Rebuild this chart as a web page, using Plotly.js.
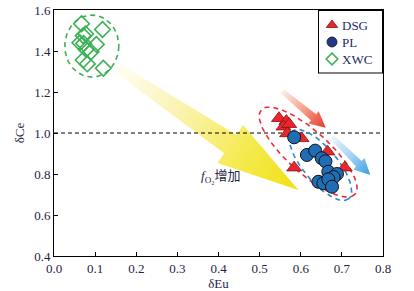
<!DOCTYPE html>
<html><head><meta charset="utf-8">
<script src="https://cdn.plot.ly/plotly-3.0.1.min.js"></script>
<style>html,body{margin:0;padding:0;background:#fff}#chart{width:414px;height:291px}</style>
</head><body><div id="chart"></div>
<script>
// ---- data ----
const seriesNames = ['DSG', 'PL', 'XWC'];
const dsgEu = [0.547, 0.565, 0.558, 0.572, 0.567, 0.602, 0.665, 0.584, 0.707];
const dsgCe = [1.072, 1.058, 1.031, 1.043, 0.998, 0.974, 0.909, 0.831, 0.831];
const plEu = [0.584, 0.615, 0.635, 0.651, 0.660, 0.667, 0.688, 0.680, 0.643, 0.655, 0.667, 0.676];
const plCe = [0.979, 0.893, 0.914, 0.877, 0.862, 0.811, 0.800, 0.785, 0.762, 0.755, 0.774, 0.738];
const xwcEu = [0.067, 0.118, 0.077, 0.071, 0.063, 0.072, 0.103, 0.078, 0.090, 0.071, 0.081, 0.120];
const xwcCe = [1.533, 1.505, 1.483, 1.475, 1.440, 1.437, 1.432, 1.408, 1.396, 1.356, 1.337, 1.316];
const xTickVals = [0, 0.1, 0.2, 0.3, 0.4, 0.5, 0.6, 0.7, 0.8];
const yTickVals = [0.4, 0.6, 0.8, 1.0, 1.2, 1.4, 1.6];
const refLineCe = 1.0;
const xTitle = 'δEu', yTitle = 'δCe';
const noteText = '<i>f</i><sub>O₂</sub>增加';

// ---- layout geometry ----
const W = 414, H = 291;
const M = {l: 54, r: 31, t: 10, b: 35};
const XR = [0, 0.8], YR = [0.4, 1.6];
const PW = W - M.l - M.r, PH = H - M.t - M.b;
function toPx(x, y) { return [(x - XR[0]) / (XR[1] - XR[0]) * PW, (YR[1] - y) / (YR[1] - YR[0]) * PH]; }
function toData(px, py) { return [XR[0] + px / PW * (XR[1] - XR[0]), YR[1] - py / PH * (YR[1] - YR[0])]; }

function ellipse(cx, cy, a, b, angDeg) {
  const [pcx, pcy] = toPx(cx, cy);
  const t = angDeg * Math.PI / 180, xs = [], ys = [];
  for (let i = 0; i <= 120; i++) {
    const s = i / 120 * 2 * Math.PI;
    const ex = a * Math.cos(s), ey = b * Math.sin(s);
    const d = toData(pcx + ex * Math.cos(t) - ey * Math.sin(t), pcy + ex * Math.sin(t) + ey * Math.cos(t));
    xs.push(d[0]); ys.push(d[1]);
  }
  return {xs, ys};
}

function arrowSvg(id, from, to, w0, w1, hw, hl, stops) {
  const s = toPx(from[0], from[1]), t = toPx(to[0], to[1]);
  const dx = t[0] - s[0], dy = t[1] - s[1], L = Math.hypot(dx, dy);
  const u = [dx / L, dy / L], n = [-u[1], u[0]];
  const b = [t[0] - u[0] * hl, t[1] - u[1] * hl];
  const P = (p, k) => (p[0] + n[0] * k).toFixed(1) + ',' + (p[1] + n[1] * k).toFixed(1);
  const pts = [P(s, w0), P(b, w1), P(b, hw), t[0].toFixed(1) + ',' + t[1].toFixed(1), P(b, -hw), P(b, -w1), P(s, -w0)].join(' ');
  const grad = `<linearGradient id='${id}' gradientUnits='userSpaceOnUse' x1='${s[0]}' y1='${s[1]}' x2='${t[0]}' y2='${t[1]}'>` +
    stops.map(c => `<stop offset='${c[0]}' stop-color='${c[1]}'/>`).join('') + `</linearGradient>`;
  return {grad, poly: `<polygon points='${pts}' fill='url(#${id})'/>`};
}

// custom legend box (plot-area pixel positions)
const legBox = {x0: 264, x1: PW, y0: 0, y1: 62.5};
const legSymX = 278, legTextX = 286, legRowY = [15, 32, 49];

const arrows = [
  arrowSvg('gy', [0.155, 1.317], [0.594, 0.722], 5, 11, 23, 82,
    [[0, '#fffef5'], [0.35, '#faf3b0'], [0.7, '#f5ea50'], [1, '#f0e010']]),
  arrowSvg('gr', [0.555, 1.204], [0.661, 1.026], 2.5, 4, 8, 16,
    [[0, '#fdeee8'], [0.5, '#f6a08a'], [1, '#e8362a']]),
  arrowSvg('gb', [0.676, 0.980], [0.769, 0.795], 2.5, 4, 8, 16,
    [[0, '#eaf5fc'], [0.5, '#a5d3f2'], [1, '#3b9de0']])
];
const legRect = `<rect x='${legBox.x0 + 0.5}' y='${legBox.y0 + 0.5}' width='${legBox.x1 - legBox.x0 - 1}' height='${legBox.y1 - legBox.y0}' fill='none' stroke='#000' stroke-width='1'/>`;
const svg = `<svg xmlns='http://www.w3.org/2000/svg' width='${PW}' height='${PH}' viewBox='0 0 ${PW} ${PH}'><defs>` +
  arrows.map(a => a.grad).join('') + `</defs>` + arrows.map(a => a.poly).join('') + legRect + `</svg>`;
const svgUri = 'data:image/svg+xml;charset=utf-8,' + encodeURIComponent(svg);

const eG = ellipse(0.092, 1.424, 27, 31, 0);
const eR = ellipse(0.618, 0.907, 63, 21, 42);
const eB = ellipse(0.648, 0.844, 44, 17, 50);

const serif = 'Liberation Serif, Times New Roman, serif';
const txtCol = '#1e2448';
const legCol = '#1f2a66';

const styles = [
  {symbol: 'triangle-up', size: 13, color: '#e8262d', line: {color: '#8a1010', width: 0.8}},
  {symbol: 'circle', size: 13, color: '#1f6db5', line: {color: '#111', width: 1}},
  {symbol: 'diamond-open', size: 12, color: '#3cb054', line: {color: '#3cb054', width: 1.6}}
];
const legStyles = [
  {symbol: 'triangle-up', size: 10, color: '#e8262d', line: {color: '#8a1010', width: 0.8}},
  {symbol: 'circle', size: 10, color: '#24368a', line: {color: '#111', width: 0.8}},
  {symbol: 'diamond-open', size: 9, color: '#3cb054', line: {color: '#3cb054', width: 1.5}}
];
const legPts = legRowY.map(py => toData(legSymX, py));

const traces = [
  {x: XR, y: [refLineCe, refLineCe], mode: 'lines', line: {color: '#000', width: 1, dash: '4px,3px'}, showlegend: false, hoverinfo: 'skip'},
  {x: eG.xs, y: eG.ys, mode: 'lines', line: {color: '#3cb054', width: 1.6, dash: '5px,4px'}, showlegend: false, hoverinfo: 'skip'},
  {x: eR.xs, y: eR.ys, mode: 'lines', line: {color: '#ee2a36', width: 1.6, dash: '5px,4px'}, showlegend: false, hoverinfo: 'skip'},
  {x: eB.xs, y: eB.ys, mode: 'lines', line: {color: '#2e86d0', width: 1.6, dash: '5px,4px'}, showlegend: false, hoverinfo: 'skip'},
  {x: dsgEu, y: dsgCe, name: seriesNames[0], mode: 'markers', marker: styles[0], showlegend: false},
  {x: plEu, y: plCe, name: seriesNames[1], mode: 'markers', marker: styles[1], showlegend: false},
  {x: xwcEu, y: xwcCe, name: seriesNames[2], mode: 'markers', marker: styles[2], showlegend: false}
];
legPts.forEach((p, i) => traces.push({x: [p[0]], y: [p[1]], mode: 'markers', marker: legStyles[i], showlegend: false, hoverinfo: 'skip', cliponaxis: false}));

const axisBase = {
  showgrid: false, zeroline: false, showline: true, linecolor: '#000', linewidth: 1, mirror: true,
  ticks: 'inside', ticklen: 4, tickcolor: '#000', tickwidth: 1,
  tickfont: {family: serif, size: 13, color: txtCol}, tickformat: '.1f'
};

const annotations = [{x: 0.404, y: 0.79, xref: 'x', yref: 'y', text: noteText, showarrow: false,
  font: {family: 'Liberation Serif, Noto Sans CJK SC', size: 13, color: txtCol}}];
legRowY.forEach((py, i) => annotations.push({
  x: legTextX / PW, y: 1 - py / PH, xref: 'paper', yref: 'paper', xanchor: 'left', yanchor: 'middle',
  text: seriesNames[i], showarrow: false, font: {family: serif, size: 13, color: legCol}
}));

const layout = {
  width: W, height: H, margin: M, paper_bgcolor: '#fff', plot_bgcolor: 'rgba(0,0,0,0)',
  xaxis: Object.assign({}, axisBase, {range: XR, tickvals: xTickVals, title: {text: xTitle, font: {family: serif, size: 13, color: txtCol}, standoff: 2}}),
  yaxis: Object.assign({}, axisBase, {range: YR, tickvals: yTickVals, title: {text: yTitle, font: {family: serif, size: 13, color: txtCol}, standoff: 6}}),
  showlegend: false,
  images: [{source: svgUri, xref: 'x', yref: 'y', x: XR[0], y: YR[1], sizex: XR[1] - XR[0], sizey: YR[1] - YR[0],
    xanchor: 'left', yanchor: 'top', sizing: 'stretch', layer: 'below'}],
  annotations
};

Plotly.newPlot('chart', traces, layout, {displayModeBar: false, staticPlot: true});
</script></body></html>
